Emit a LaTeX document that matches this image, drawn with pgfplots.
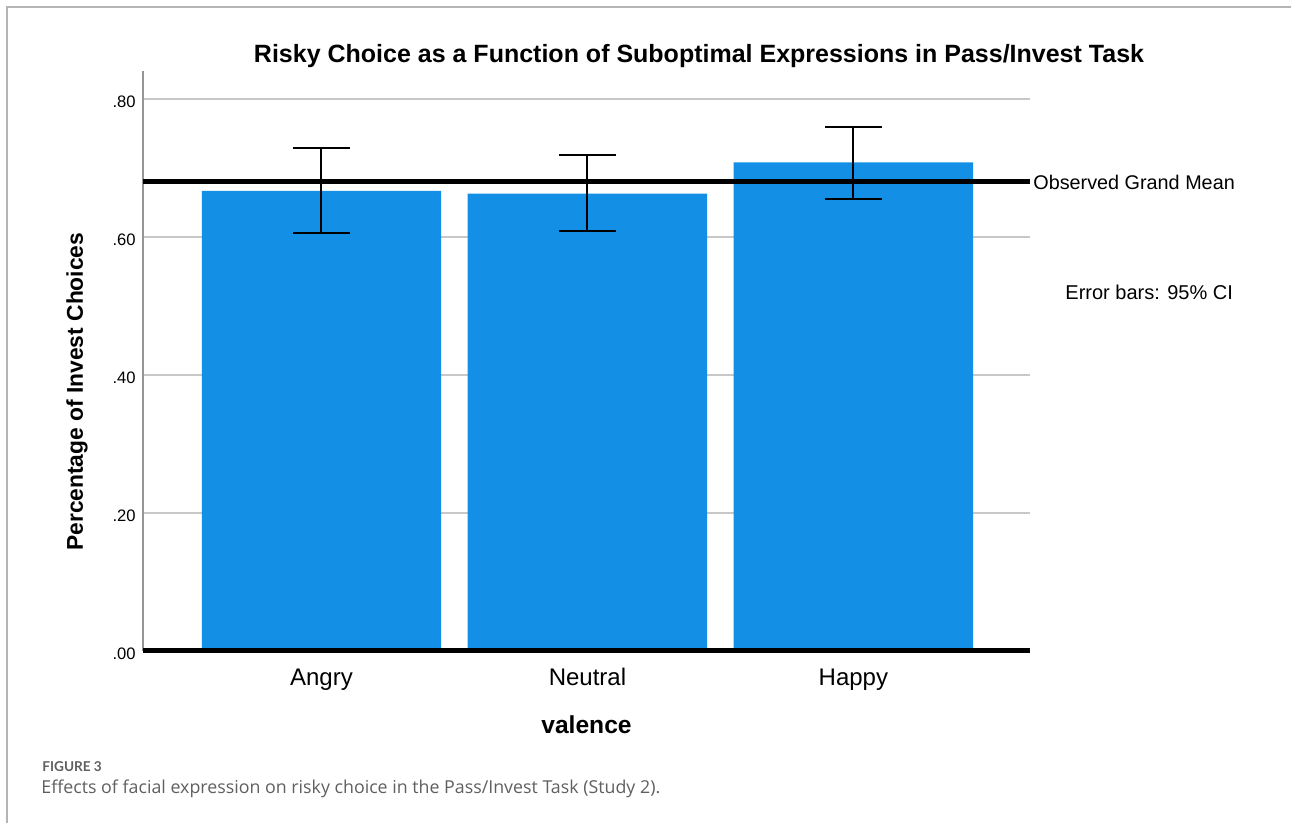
\documentclass[border=0pt]{standalone}
\usepackage{fontspec}
\setmainfont{Liberation Sans}
\newfontfamily\capfont{Open Sans}
\newfontfamily\figfont{Lato}
\usepackage{pgfplots}
\pgfplotsset{compat=1.18}

\definecolor{barblue}{RGB}{19,144,230}
\definecolor{gridgray}{RGB}{200,200,200}
\definecolor{axisgray}{RGB}{150,150,150}
\definecolor{framegray}{RGB}{180,180,180}
\definecolor{capgray}{RGB}{95,95,95}

\begin{document}
\begin{tikzpicture}
\useasboundingbox (0pt,0pt) rectangle (645.5pt,411.5pt);
% frame of the figure panel
\draw[framegray, line width=0.9pt] (3.5pt,0pt) -- (3.5pt,408pt) -- (645.5pt,408pt);

\begin{axis}[
  at={(71.5pt,86pt)}, anchor=south west,
  scale only axis, width=443.5pt, height=290pt,
  xmin=-0.671, xmax=2.664, ymin=0, ymax=0.8406,
  clip=false,
  axis line style={draw=none},
  major tick length=0pt,
  xtick={0,1,2}, xticklabels={Angry,Neutral,Happy},
  ytick={0,0.2,0.4,0.6,0.8}, yticklabels={.00,.20,.40,.60,.80},
  xticklabel style={font=\fontsize{12pt}{14pt}\selectfont, anchor=base, inner sep=0pt, yshift=-17.25pt},
  yticklabel style={font=\fontsize{8.3pt}{10pt}\selectfont, anchor=east, inner sep=0pt, xshift=-3.5pt, yshift=-1.5pt},
  ymajorgrids, grid style={gridgray, line width=0.75pt},
  xlabel={valence},
  xlabel style={font=\fontsize{12.3pt}{14pt}\selectfont\bfseries, at={(axis description cs:0.5,0)}, anchor=base, inner sep=0pt, yshift=-41.5pt},
  ylabel={Percentage of Invest Choices},
  ylabel style={font=\fontsize{11.4pt}{13pt}\selectfont\bfseries, at={(axis description cs:-0.0744,0.447)}, anchor=center, inner sep=0pt},
]
% left axis line
\draw[axisgray, line width=0.9pt] (rel axis cs:0,0) -- (rel axis cs:0,1);

% group means with 95% confidence intervals
\addplot[ybar, bar width=0.9, fill=barblue, draw=none,
  error bars/.cd, y dir=both, y explicit,
  error mark=|,
  error bar style={black, line width=1pt},
  error mark options={black, line width=1pt, mark size=14.3pt}]
  coordinates {
    (0,0.667) += (0,0.062) -= (0,0.061)
    (1,0.663) += (0,0.056) -= (0,0.055)
    (2,0.708) += (0,0.052) -= (0,0.053)
  };

% observed grand mean
\addplot[black, line width=2.5pt, forget plot] coordinates {(-0.671,0.680) (2.664,0.680)};

% baseline at zero
\draw[black, line width=2.5pt] (rel axis cs:0,0) -- (rel axis cs:1,0);
\end{axis}

\node[anchor=base, inner sep=0pt, font=\fontsize{12.5pt}{15pt}\selectfont\bfseries]
  at (349.5pt,380pt) {Risky Choice as a Function of Suboptimal Expressions in Pass/Invest Task};
\node[anchor=base west, inner sep=0pt, font=\fontsize{9.9pt}{12pt}\selectfont]
  at (516.5pt,316.5pt) {Observed Grand Mean};
\node[anchor=base west, inner sep=0pt, font=\fontsize{10pt}{12pt}\selectfont]
  at (532.5pt,261.5pt) {Error bars: 95\% CI};

\node[anchor=base west, inner sep=0pt, text=capgray, font=\figfont\bfseries\fontsize{6.8pt}{8pt}\selectfont]
  at (21pt,25.5pt) {FIGURE 3};
\node[anchor=base west, inner sep=0pt, text=capgray, font=\capfont\fontsize{8.9pt}{10pt}\selectfont]
  at (20.5pt,14.5pt) {Effects of facial expression on risky choice in the Pass/Invest Task (Study 2).};
\end{tikzpicture}
\end{document}
